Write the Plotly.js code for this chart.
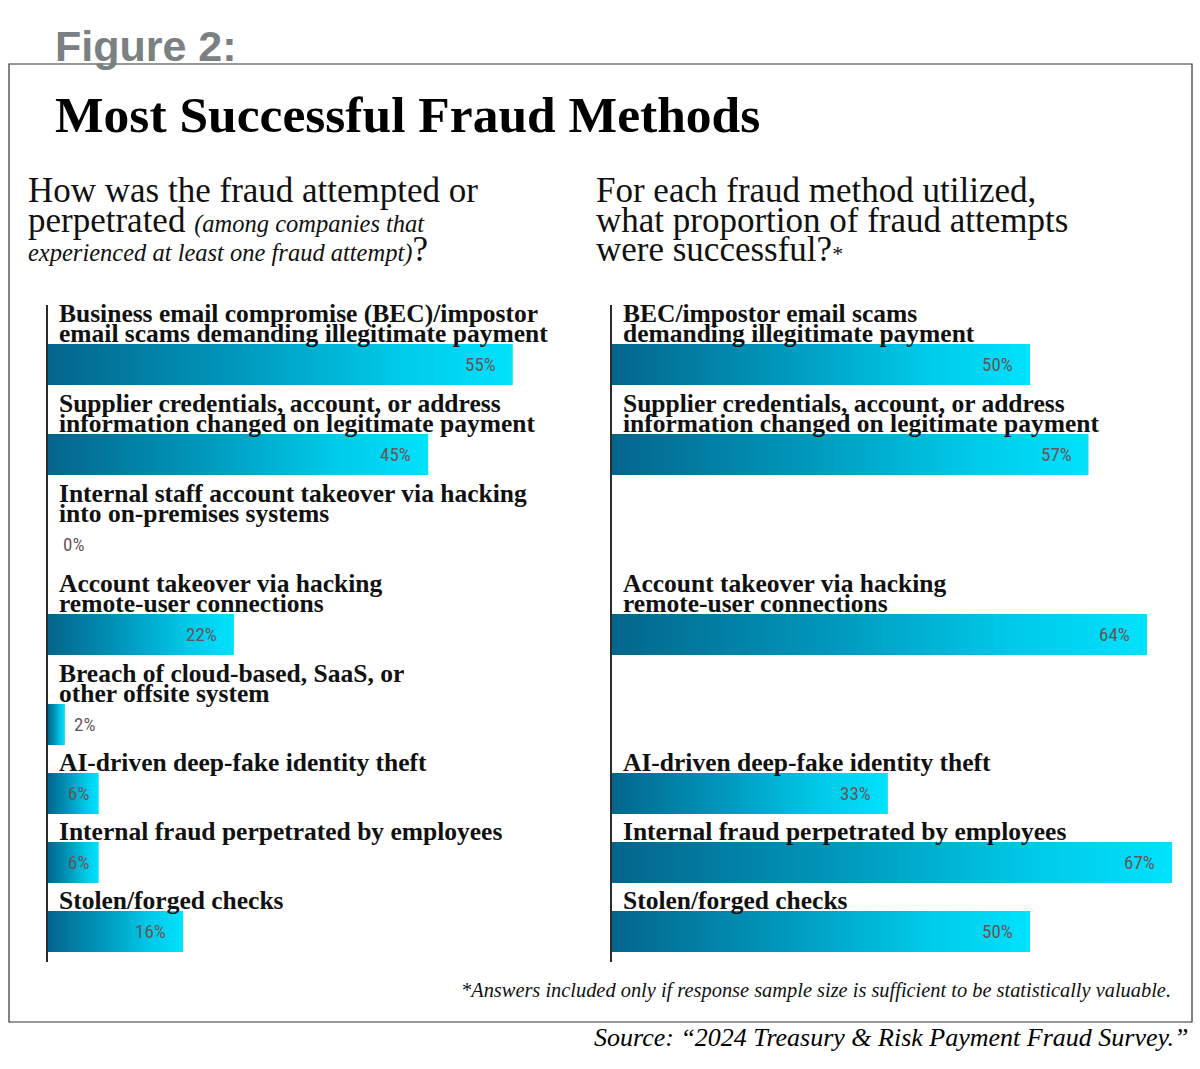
<!DOCTYPE html>
<html><head><meta charset="utf-8">
<script src="https://cdn.plot.ly/plotly-3.0.1.min.js"></script>
<style>body{margin:0;background:#fff}#chart{width:1200px;height:1069px}</style>
</head><body><div id="chart"></div>
<script>
// ---- data ----
const leftLabels = [
  "Business email compromise (BEC)/impostor<br>email scams demanding illegitimate payment",
  "Supplier credentials, account, or address<br>information changed on legitimate payment",
  "Internal staff account takeover via hacking<br>into on-premises systems",
  "Account takeover via hacking<br>remote-user connections",
  "Breach of cloud-based, SaaS, or<br>other offsite system",
  "AI-driven deep-fake identity theft",
  "Internal fraud perpetrated by employees",
  "Stolen/forged checks"
];
const leftValues = [55, 45, 0, 22, 2, 6, 6, 16];
const rightLabels = [
  "BEC/impostor email scams<br>demanding illegitimate payment",
  "Supplier credentials, account, or address<br>information changed on legitimate payment",
  null,
  "Account takeover via hacking<br>remote-user connections",
  null,
  "AI-driven deep-fake identity theft",
  "Internal fraud perpetrated by employees",
  "Stolen/forged checks"
];
const rightValues = [50, 57, null, 64, null, 33, 67, 50];

// ---- layout constants (pixels) ----
const W = 1200, H = 1069;
const PLOT_TOP = 305, PLOT_BOT = 962;
const LINE = 21, BAR = 41, GAP = 7, START = -3;
const PLOT_H = PLOT_BOT - PLOT_TOP;
const LABEL_SIZE = 25.5;
const SERIF = "Liberation Serif, Times New Roman, serif";
const NARROW = "Liberation Sans Narrow, Arial Narrow, Roboto Condensed, sans-serif";

// row positions derived from label line counts
const barTops = [], barCenters = [];
let cursor = START;
leftLabels.forEach(l => {
  const n = l.split("<br>").length;
  const top = cursor + LINE * n;
  barTops.push(top);
  barCenters.push(top + BAR / 2);
  cursor = top + BAR + GAP;
});

const annotations = [];
const px = x => x / W;
const py = y => 1 - y / H;
function textAt(x, baseline, text, size, o) {
  o = o || {};
  annotations.push({
    xref: "paper", yref: "paper", x: px(x), y: py(baseline),
    xanchor: o.anchor || "left", yanchor: "bottom", yshift: -(o.descent || 0.216) * size,
    borderpad: 0, showarrow: false, text: text,
    font: {family: o.family || SERIF, size: size, color: o.color || "#111"}
  });
}

// titles
textAt(54, 62, "<b>Figure 2:</b>", 43, {family: "Liberation Sans, Arial, sans-serif", color: "#7b8083", descent: 0.212});
textAt(54, 133, "<b>Most Successful Fraud Methods</b>", 51.5, {color: "#000"});
textAt(27, 203, "How was the fraud attempted or", 35);
textAt(27, 233, "perpetrated <i><span style=\"font-size:24.5px\">(among companies that</span></i>", 35);
textAt(27, 262, "<i><span style=\"font-size:24.5px\">experienced at least one fraud attempt)</span></i>?", 35);
textAt(595, 203, "For each fraud method utilized,", 35);
textAt(595, 233, "what proportion of fraud attempts", 35);
textAt(595, 262, "were successful?<span style=\"font-size:22px\">*</span>", 35);
textAt(1172, 999, "<i>*Answers included only if response sample size is sufficient to be statistically valuable.</i>", 20.4, {anchor: "right"});
textAt(1190, 1047, "<i>Source: “2024 Treasury &amp; Risk Payment Fraud Survey.”</i>", 26, {anchor: "right", color: "#000"});

// category labels and value labels
function panel(labels, values, xr, yr) {
  labels.forEach((lab, i) => {
    if (lab === null) return;
    const lines = lab.split("<br>");
    lines.forEach((t, j) => {
      annotations.push({
        xref: xr, yref: yr, x: 0, y: barTops[i] - (lines.length - 1 - j) * (LINE - 1),
        xanchor: "left", yanchor: "bottom", xshift: 10, yshift: -0.216 * LABEL_SIZE + 1,
        borderpad: 0, showarrow: false, text: "<b>" + t + "</b>",
        font: {family: SERIF, size: LABEL_SIZE, color: "#111"}
      });
    });
  });
  values.forEach((v, i) => {
    if (v === null) return;
    const outside = v < 4;
    annotations.push({
      xref: xr, yref: yr, x: v, y: barCenters[i],
      xanchor: outside ? "left" : "right", yanchor: "middle",
      xshift: outside ? (v === 0 ? 13 : 7) : (v < 10 ? -8 : -15),
      showarrow: false, text: v + "%",
      font: {family: NARROW, size: 19, color: "#675559"}
    });
  });
}
panel(leftLabels, leftValues, "x", "y");
panel(rightLabels, rightValues, "x2", "y2");

const barTrace = (vals, xa, ya) => ({
  type: "bar", orientation: "h", x: vals, y: barCenters, width: BAR,
  xaxis: xa, yaxis: ya, marker: {color: "#00a9cf", line: {width: 0}},
  hoverinfo: "none", textposition: "none"
});

const yDomain = [1 - PLOT_BOT / H, 1 - PLOT_TOP / H];
const yAx = anchor => ({
  domain: yDomain, range: [PLOT_H, 0], anchor: anchor,
  showline: true, linecolor: "#2a2a2a", linewidth: 2.5, showgrid: false,
  zeroline: false, showticklabels: false, ticks: "", fixedrange: true
});
const xAx = (dom, rng, anchor) => ({
  domain: dom, range: rng, anchor: anchor, showline: false, showgrid: false,
  zeroline: false, showticklabels: false, ticks: "", fixedrange: true
});

const layout = {
  width: W, height: H, margin: {l: 0, r: 0, t: 0, b: 0},
  paper_bgcolor: "#fff", plot_bgcolor: "rgba(0,0,0,0)", showlegend: false,
  xaxis: xAx([48 / W, (48 + 60 * 8.45) / W], [0, 60], "y"),
  yaxis: yAx("x"),
  xaxis2: xAx([612 / W, (612 + 68 * 8.36) / W], [0, 68], "y2"),
  yaxis2: yAx("x2"),
  shapes: [{
    type: "rect", xref: "paper", yref: "paper", layer: "below",
    x0: px(9), x1: px(1192), y0: py(1022), y1: py(64),
    line: {color: "#333", width: 1.2}, fillcolor: "rgba(0,0,0,0)"
  }],
  annotations: annotations
};

Plotly.newPlot("chart", [barTrace(leftValues, "x", "y"), barTrace(rightValues, "x2", "y2")], layout, {staticPlot: true, displayModeBar: false})
.then(gd => {
  const svg = gd.querySelector("svg.main-svg");
  const ns = "http://www.w3.org/2000/svg";
  let defs = svg.querySelector("defs");
  if (!defs) { defs = document.createElementNS(ns, "defs"); svg.insertBefore(defs, svg.firstChild); }
  const g = document.createElementNS(ns, "linearGradient");
  g.setAttribute("id", "barGrad");
  g.setAttribute("x1", "0"); g.setAttribute("y1", "0"); g.setAttribute("x2", "1"); g.setAttribute("y2", "0");
  [["0", "#04658c"], ["0.4", "#0097bb"], ["0.75", "#00c9e8"], ["1", "#00e2fd"]].forEach(([o, c]) => {
    const s = document.createElementNS(ns, "stop");
    s.setAttribute("offset", o); s.setAttribute("stop-color", c);
    g.appendChild(s);
  });
  defs.appendChild(g);
  gd.querySelectorAll(".bars .point path").forEach(p => { p.style.fill = "url(#barGrad)"; });
});
</script></body></html>
